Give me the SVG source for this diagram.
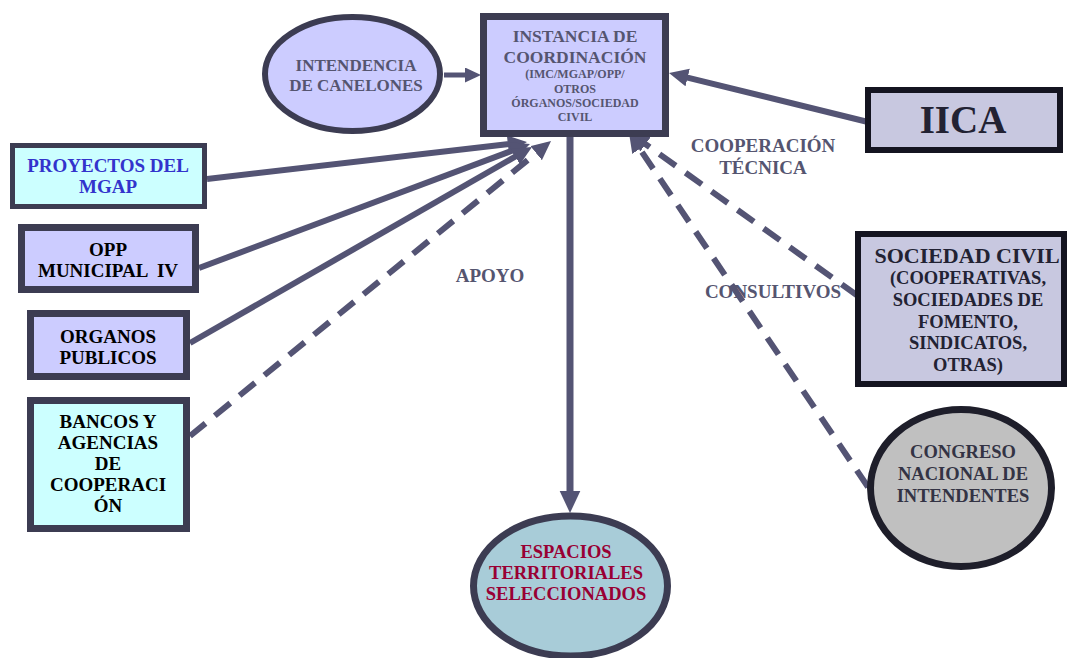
<svg xmlns="http://www.w3.org/2000/svg" width="1068" height="658" viewBox="0 0 1068 658">
<style>
text{font-family:"Liberation Serif","Times New Roman",serif;font-weight:bold;text-anchor:middle}
.nb{stroke:#3c3c52}
.lav{fill:#ccccff}
.cy{fill:#ccffff}
.gr{fill:#c8c8e0;stroke:#141420}
.ln{fill:none;stroke:#545474}
.dash{stroke-dasharray:20 12}
.gt{fill:#555570}
.bk{fill:#000000}
.dk{fill:#222233}
</style>
<defs>
<marker id="ah" markerUnits="strokeWidth" markerWidth="3.4" markerHeight="3.2" refX="0.2" refY="1.5" orient="auto">
<path d="M0,0 L3.2,1.5 L0,3 z" fill="#545474"/>
</marker>
</defs>

<g id="connectors">
<line class="ln" x1="444" y1="75" x2="466" y2="75" stroke-width="5" marker-end="url(#ah)"/>
<line class="ln" x1="868" y1="122" x2="686.5" y2="77.3" stroke-width="6" marker-end="url(#ah)"/>
<line class="ln" x1="207" y1="179" x2="509.1" y2="144.1" stroke-width="6" marker-end="url(#ah)"/>
<line class="ln" x1="199" y1="268" x2="513.1" y2="150.3" stroke-width="6" marker-end="url(#ah)"/>
<line class="ln" x1="190" y1="343" x2="516.4" y2="156" stroke-width="6" marker-end="url(#ah)"/>
<line class="ln dash" x1="190" y1="436" x2="537.1" y2="152.4" stroke-width="6" marker-end="url(#ah)"/>
<line class="ln dash" x1="858" y1="296" x2="644.6" y2="143.5" stroke-width="6" marker-end="url(#ah)"/>
<line class="ln dash" x1="868" y1="487" x2="639.1" y2="147.9" stroke-width="6" marker-end="url(#ah)"/>
<line class="ln" x1="570" y1="137" x2="570" y2="492" stroke-width="7" marker-end="url(#ah)"/>
</g>

<g id="instancia">
<rect class="lav nb" x="483.5" y="16.5" width="182" height="117" stroke-width="7"/>
<text class="gt" x="575" y="42" font-size="17.5">INSTANCIA DE</text>
<text class="gt" x="575" y="63" font-size="17.5">COORDINACIÓN</text>
<text class="gt" x="575" y="78" font-size="12">(IMC/MGAP/OPP/</text>
<text class="gt" x="575" y="93" font-size="12">OTROS</text>
<text class="gt" x="575" y="107" font-size="12">ÓRGANOS/SOCIEDAD</text>
<text class="gt" x="575" y="121" font-size="12">CIVIL</text>
</g>

<g id="intendencia">
<ellipse class="lav nb" cx="352.5" cy="74" rx="87.5" ry="57" stroke-width="6"/>
<text class="gt" x="356" y="71" font-size="17">INTENDENCIA</text>
<text class="gt" x="356" y="91" font-size="17">DE CANELONES</text>
</g>

<g id="proyectos">
<rect class="cy nb" x="12.5" y="145.5" width="192" height="61" stroke-width="5"/>
<text x="108" y="172" font-size="19" fill="#3333cc">PROYECTOS DEL</text>
<text x="108" y="193" font-size="19" fill="#3333cc">MGAP</text>
</g>

<g id="opp">
<rect class="lav nb" x="21.5" y="227.5" width="174" height="62" stroke-width="7"/>
<text class="bk" x="108" y="256" font-size="19">OPP</text>
<text class="bk" x="108" y="277" font-size="19" xml:space="preserve">MUNICIPAL  IV</text>
</g>

<g id="organos">
<rect class="lav nb" x="30.5" y="313.5" width="156" height="63" stroke-width="7"/>
<text class="bk" x="108" y="343" font-size="19">ORGANOS</text>
<text class="bk" x="108" y="364" font-size="19">PUBLICOS</text>
</g>

<g id="bancos">
<rect class="cy nb" x="30.5" y="400.5" width="156" height="128" stroke-width="7"/>
<text class="bk" x="108" y="428" font-size="19">BANCOS Y</text>
<text class="bk" x="108" y="449" font-size="19">AGENCIAS</text>
<text class="bk" x="108" y="470" font-size="19">DE</text>
<text class="bk" x="108" y="491" font-size="19">COOPERACI</text>
<text class="bk" x="108" y="512" font-size="19">ÓN</text>
</g>

<g id="iica">
<rect class="gr" x="868" y="90" width="192" height="60" stroke-width="6"/>
<text class="dk" x="963" y="133" font-size="39">IICA</text>
</g>

<g id="sociedad">
<rect class="gr" x="858" y="234" width="206" height="150" stroke-width="6"/>
<text class="dk" x="967" y="263" font-size="22">SOCIEDAD CIVIL</text>
<text class="dk" x="968" y="284" font-size="18.5">(COOPERATIVAS,</text>
<text class="dk" x="968" y="306" font-size="18.5">SOCIEDADES DE</text>
<text class="dk" x="968" y="328" font-size="18.5">FOMENTO,</text>
<text class="dk" x="968" y="349" font-size="18.5">SINDICATOS,</text>
<text class="dk" x="968" y="371" font-size="18.5">OTRAS)</text>
</g>

<g id="congreso">
<ellipse cx="961" cy="488" rx="90.5" ry="78.5" fill="#c0c0c0" stroke="#1e1e2a" stroke-width="7"/>
<text x="963" y="458" font-size="18.5" fill="#333344">CONGRESO</text>
<text x="963" y="480" font-size="18.5" fill="#333344">NACIONAL DE</text>
<text x="963" y="502" font-size="18.5" fill="#333344">INTENDENTES</text>
</g>

<g id="espacios">
<ellipse class="nb" cx="570.5" cy="586" rx="97" ry="70" fill="#a8ccd8" stroke-width="7"/>
<text x="566" y="558" font-size="18.5" fill="#990033">ESPACIOS</text>
<text x="566" y="579" font-size="18.5" fill="#990033">TERRITORIALES</text>
<text x="566" y="600" font-size="18.5" fill="#990033">SELECCIONADOS</text>
</g>

<g id="labels">
<text class="gt" x="763" y="152" font-size="19">COOPERACIÓN</text>
<text class="gt" x="763" y="174" font-size="19">TÉCNICA</text>
<text class="gt" x="773" y="298" font-size="19">CONSULTIVOS</text>
<text class="gt" x="490" y="282" font-size="19">APOYO</text>
</g>
</svg>
